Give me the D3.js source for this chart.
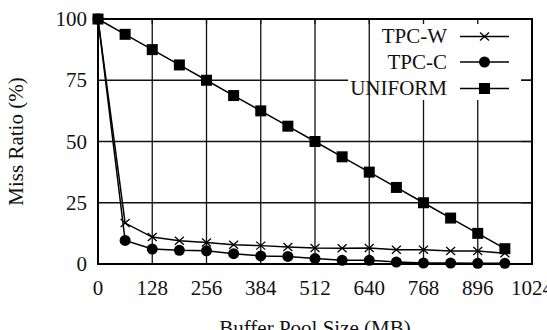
<!DOCTYPE html>
<html><head><meta charset="utf-8">
<script src="https://cdn.jsdelivr.net/npm/d3@7"></script>
<style>body{margin:0;background:#fff;} svg{display:block;}</style>
</head><body>
<svg id="c" width="547" height="330"></svg>
<script>
const sizes = [0,64,128,192,256,320,384,448,512,576,640,704,768,832,896,960];
const tpcw = [100,16.7,11,9.5,8.8,7.9,7.5,6.9,6.5,6.4,6.5,5.8,5.8,5.3,5.3,4.4];
const tpcc = [100,9.6,6.1,5.6,5.4,4.2,3.3,3.1,2.2,1.5,1.5,0.8,0.4,0.4,0.3,0.3];
const uniform = [100,93.75,87.5,81.25,75,68.75,62.5,56.25,50,43.75,37.5,31.25,25,18.75,12.5,6.25];
const xTicks = [0,128,256,384,512,640,768,896,1024];
const yTicks = [0,25,50,75,100];
const seriesNames = ["TPC-W","TPC-C","UNIFORM"];
const markers = ["cross","circle","square"];

const svg = d3.select("#c");
const font = "'Liberation Serif','Times New Roman',serif";
const L=98, R=532, T=19, B=264;
const x = d3.scaleLinear().domain([0,1024]).range([L,R]);
const y = d3.scaleLinear().domain([0,100]).range([B,T]);

// horizontal grid
svg.append("g").selectAll("line").data(yTicks.slice(1,4)).join("line")
  .attr("x1",L).attr("x2",R).attr("y1",d=>y(d)).attr("y2",d=>y(d))
  .attr("stroke","#111").attr("stroke-width",1.3);

// legend box (opaque)
const legL=348, legR=521, legB=100;
svg.append("rect").attr("x",legL).attr("y",T+1).attr("width",legR-legL).attr("height",legB-T-1).attr("fill","#fff");

// vertical grid
svg.append("g").selectAll("line").data(xTicks.slice(1,8)).join("line")
  .attr("x1",d=>x(d)).attr("x2",d=>x(d))
  .attr("y1",d=>(x(d)>legL+30 && x(d)<legR)?legB:T).attr("y2",B)
  .attr("stroke","#111").attr("stroke-width",1.3);

// mirror ticks
svg.append("g").selectAll("line").data(xTicks.slice(1,8)).join("line")
  .attr("x1",d=>x(d)).attr("x2",d=>x(d)).attr("y1",T).attr("y2",T+5)
  .attr("stroke","#111").attr("stroke-width",1.3);
svg.append("g").selectAll("line").data(yTicks.slice(1,4)).join("line")
  .attr("x1",R-11).attr("x2",R).attr("y1",d=>y(d)).attr("y2",d=>y(d))
  .attr("stroke","#111").attr("stroke-width",1.3);

// border
svg.append("rect").attr("x",L).attr("y",T).attr("width",R-L).attr("height",B-T)
  .attr("fill","none").attr("stroke","#000").attr("stroke-width",2);

// tick labels
svg.append("g").selectAll("text").data(xTicks).join("text")
  .attr("x",d=>x(d)).attr("y",295).attr("text-anchor","middle")
  .attr("font-family",font).attr("font-size",21).attr("fill","#111").text(d=>d);
svg.append("g").selectAll("text").data(yTicks).join("text")
  .attr("x",87).attr("y",d=>y(d)+7).attr("text-anchor","end")
  .attr("font-family",font).attr("font-size",21).attr("fill","#111").text(d=>d);

// axis titles
svg.append("text").attr("x",(L+R)/2).attr("y",335).attr("text-anchor","middle")
  .attr("font-family",font).attr("font-size",21).attr("fill","#111").text("Buffer Pool Size (MB)");
svg.append("text").attr("transform",`translate(23,${(T+B)/2}) rotate(-90)`).attr("text-anchor","middle")
  .attr("font-family",font).attr("font-size",21).attr("fill","#111").text("Miss Ratio (%)");

function drawMarker(g, type, cx, cy){
  if(type==="square") g.append("rect").attr("x",cx-5.5).attr("y",cy-5.5).attr("width",11).attr("height",11).attr("fill","#000");
  else if(type==="circle") g.append("circle").attr("cx",cx).attr("cy",cy).attr("r",5.5).attr("fill","#000");
  else {
    g.append("path").attr("d",`M${cx-4.5},${cy-4}L${cx+4.5},${cy+4}M${cx-4.5},${cy+4}L${cx+4.5},${cy-4}`)
      .attr("stroke","#000").attr("stroke-width",1.3).attr("fill","none");
  }
}

const allSeries = [tpcw,tpcc,uniform];
const line = d3.line().x((d,i)=>x(sizes[i])).y(d=>y(d));
allSeries.forEach((s,k)=>{
  const g = svg.append("g");
  g.append("path").datum(s).attr("d",line).attr("fill","none").attr("stroke","#000").attr("stroke-width",1.5);
  s.forEach((v,i)=>drawMarker(g,markers[k],x(sizes[i]),y(v)));
});

// legend
const rowY=[36.5,62,88.5];
seriesNames.forEach((n,k)=>{
  const g=svg.append("g");
  g.append("text").attr("x",447).attr("y",rowY[k]+6.5).attr("text-anchor","end")
    .attr("font-family",font).attr("font-size",21).attr("fill","#111").text(n);
  g.append("line").attr("x1",460).attr("x2",509).attr("y1",rowY[k]).attr("y2",rowY[k]).attr("stroke","#000").attr("stroke-width",1.5);
  drawMarker(g,markers[k],484.5,rowY[k]);
});
</script>
</body></html>
